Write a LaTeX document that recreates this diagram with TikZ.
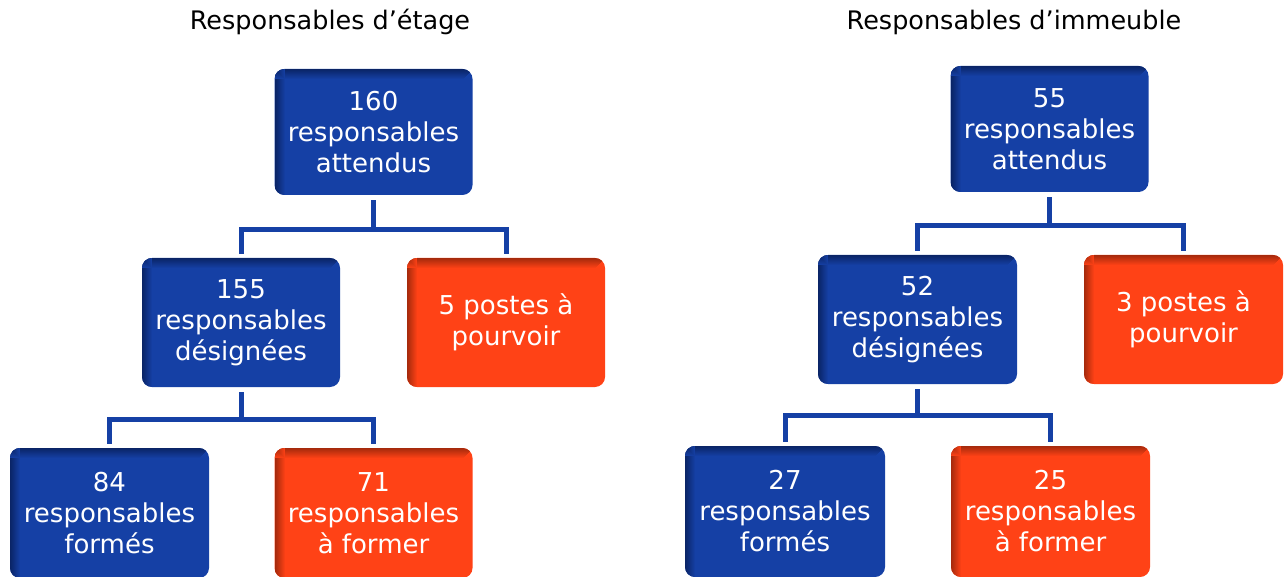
\documentclass[tikz,border=0pt]{standalone}
\usepackage{fontspec}
\setmainfont{DejaVu Sans}
\definecolor{boxblue}{HTML}{1540A5}
\definecolor{boxbluedark}{HTML}{0A2466}
\definecolor{boxorange}{HTML}{FF4216}
\definecolor{boxorangedark}{HTML}{A52A0C}
\newcommand\myedgeshade[2]{%
  \foreach \i in {0,...,9}{%
    \pgfmathtruncatemacro\pp{100-\i*10}%
    \fill[sharp corners,#1!\pp!#2]
      ([xshift=\i pt]path picture bounding box.north west) rectangle ([xshift=\i pt+1.2pt]path picture bounding box.south west);
    \fill[sharp corners,#1!\pp!#2]
      ([yshift=-\i pt]path picture bounding box.north west) rectangle ([yshift=-\i pt-1.2pt,xshift=-\i pt]path picture bounding box.north east);
  }}
\tikzset{
  box/.style={rounded corners=10pt, minimum width=198pt, minimum height=128pt,
    inner sep=0pt, text=white, align=center, font=\fontsize{26}{31}\selectfont},
  bluebox/.style={box, fill=boxblue, path picture={\myedgeshade{boxbluedark}{boxblue}}},
  orangebox/.style={box, fill=boxorange, path picture={\myedgeshade{boxorangedark}{boxorange}}},
  conn/.style={draw=boxblue, line width=5pt, line join=miter},
  title/.style={font=\fontsize{25.5}{30}\selectfont, text=black}
}
\begin{document}
\begin{tikzpicture}[x=1pt,y=-1pt]
\useasboundingbox (0,0) rectangle (1284,577);
\fill[white] (0,0) rectangle (1284,577);
% titles
\node[title] (tL) at (330,22) {Responsables d’étage};
\node[title] (tR) at (1014,22) {Responsables d’immeuble};
% left tree
\node[bluebox, minimum height=126pt] (Ltop) at (373.5,132) {160\\responsables\\attendus};
\node[bluebox, minimum height=129pt] (Lmid) at (241,322.5) {155\\responsables\\désignées};
\node[orangebox, minimum height=129pt] (Lor) at (506,322.5) {5 postes à\\pourvoir};
\node[bluebox, minimum height=130pt, minimum width=199pt] (Lb1) at (109.5,513) {84\\responsables\\formés};
\node[orangebox, minimum height=130pt] (Lb2) at (373.5,513) {71\\responsables\\à former};
% right tree
\node[bluebox, minimum height=126pt] (Rtop) at (1049.5,129) {55\\responsables\\attendus};
\node[bluebox, minimum height=129pt, minimum width=199pt] (Rmid) at (917.5,319.5) {52\\responsables\\désignées};
\node[orangebox, minimum height=129pt, minimum width=199pt] (Ror) at (1183.5,319.5) {3 postes à\\pourvoir};
\node[bluebox, minimum height=131pt, minimum width=200pt] (Rb1) at (785,511.5) {27\\responsables\\formés};
\node[orangebox, minimum height=131pt, minimum width=199pt] (Rb2) at (1050.5,511.5) {25\\responsables\\à former};
% connector bars
\coordinate (L1bar) at (373.5,229.5);
\coordinate (L2bar) at (241,419.5);
\coordinate (R1bar) at (1049.5,225.5);
\coordinate (R2bar) at (917.5,415.5);
\draw[conn] ([yshift=-5pt]Ltop.south) -- (L1bar);
\draw[conn] ([yshift=4pt]Lmid.north) |- (L1bar) -| ([yshift=4pt]Lor.north);
\draw[conn] ([yshift=-5pt]Lmid.south) -- (L2bar);
\draw[conn] ([yshift=4pt]Lb1.north) |- (L2bar) -| ([yshift=4pt]Lb2.north);
\draw[conn] ([yshift=-5pt]Rtop.south) -- (R1bar);
\draw[conn] ([yshift=4pt]Rmid.north) |- (R1bar) -| ([yshift=4pt]Ror.north);
\draw[conn] ([yshift=-5pt]Rmid.south) -- (R2bar);
\draw[conn] ([yshift=4pt]Rb1.north) |- (R2bar) -| ([yshift=4pt]Rb2.north);
\end{tikzpicture}
\end{document}
